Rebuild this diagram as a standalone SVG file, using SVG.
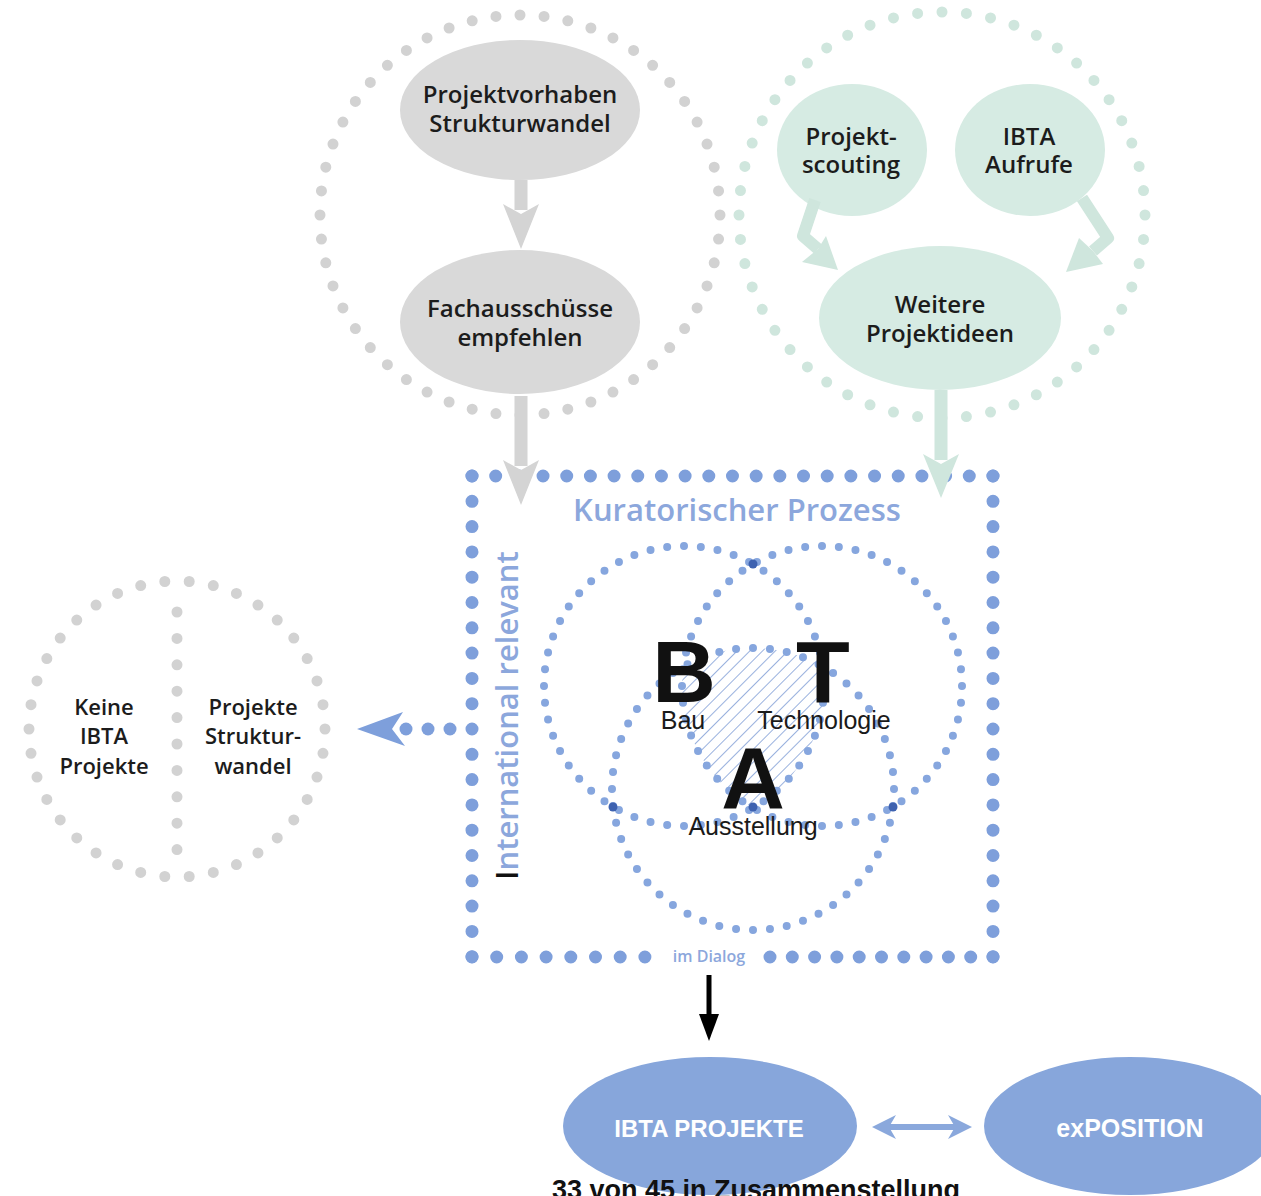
<svg xmlns="http://www.w3.org/2000/svg" width="1261" height="1196" viewBox="0 0 1261 1196">
<defs>
<style>
.lbl{font-family:"Open Sans","Liberation Sans",sans-serif;font-weight:600;fill:#1c1c1c;text-anchor:middle}
.n{font-size:24px}
.gdot{fill:none;stroke:#d2d2d2;stroke-width:11;stroke-linecap:round;stroke-dasharray:0 1}
.tdot{fill:none;stroke:#cfe6dd;stroke-width:11;stroke-linecap:round;stroke-dasharray:0 1}
.bdot{fill:none;stroke:#7e9fdb;stroke-width:13;stroke-linecap:round}
.vdot{fill:none;stroke:#86a6de;stroke-width:8;stroke-linecap:round;stroke-dasharray:0 1}
.gfill{fill:#d9d9d9}
.tfill{fill:#d6ebe3}
.bfill{fill:#87a6db}
.sub{font-family:"Liberation Sans",Arial,sans-serif;font-size:25px;fill:#1a1a1a;text-anchor:middle}
.big{font-family:"Liberation Sans",Arial,sans-serif;font-weight:bold;font-size:88px;fill:#111;text-anchor:middle}
.wl{font-family:"Liberation Sans",Arial,sans-serif;font-weight:bold;fill:#ffffff;text-anchor:middle}
</style>
<pattern id="hatch" width="9" height="9" patternUnits="userSpaceOnUse" patternTransform="rotate(45)">
<line x1="0" y1="0" x2="0" y2="9" stroke="#7f9dd6" stroke-width="1.6"/>
</pattern>
<clipPath id="cB"><circle cx="684" cy="686" r="140"/></clipPath>
<clipPath id="cT"><circle cx="822" cy="686" r="140"/></clipPath>
<clipPath id="cA"><circle cx="753" cy="789" r="141"/></clipPath>
</defs>
<rect width="1261" height="1196" fill="#ffffff"/>

<g id="group-strukturwandel">
<circle class="gdot" cx="520" cy="215" r="200" pathLength="52"/>
</g>
<g id="group-ideen">
<circle class="tdot" cx="942" cy="215" r="203" pathLength="52"/>
</g>

<g id="node-projektvorhaben">
<ellipse class="gfill" cx="520" cy="110" rx="120" ry="70"/>
<text class="lbl n" x="520" y="103">Projektvorhaben</text>
<text class="lbl n" x="520" y="132">Strukturwandel</text>
</g>
<g id="node-fachausschuesse">
<ellipse class="gfill" cx="520" cy="322" rx="120" ry="72"/>
<text class="lbl n" x="520" y="317">Fachausschüsse</text>
<text class="lbl n" x="520" y="346">empfehlen</text>
</g>
<g id="node-projektscouting">
<ellipse class="tfill" cx="852" cy="150" rx="75" ry="66"/>
<text class="lbl n" x="851" y="145">Projekt-</text>
<text class="lbl n" x="851" y="173">scouting</text>
</g>
<g id="node-aufrufe">
<ellipse class="tfill" cx="1030" cy="150" rx="75" ry="66"/>
<text class="lbl n" x="1029" y="145">IBTA</text>
<text class="lbl n" x="1029" y="173">Aufrufe</text>
</g>
<g id="node-weitere">
<ellipse class="tfill" cx="940" cy="318" rx="121" ry="72"/>
<text class="lbl n" x="940" y="313">Weitere</text>
<text class="lbl n" x="940" y="342">Projektideen</text>
</g>

<g id="node-keine-ibta">
<circle class="gdot" cx="177" cy="729" r="148" pathLength="38"/>
<line x1="177" y1="612" x2="177" y2="850" stroke="#d2d2d2" stroke-width="11" stroke-linecap="round" stroke-dasharray="0 26.4"/>
<text class="lbl" style="font-size:22px" x="104" y="715">Keine</text>
<text class="lbl" style="font-size:22px" x="104" y="744">IBTA</text>
<text class="lbl" style="font-size:22px" x="104" y="774">Projekte</text>
<text class="lbl" style="font-size:22px" x="253" y="715">Projekte</text>
<text class="lbl" style="font-size:22px" x="253" y="744">Struktur-</text>
<text class="lbl" style="font-size:22px" x="253" y="774">wandel</text>
</g>

<g id="node-kuratorischer-prozess">
<line class="bdot" x1="472" y1="476" x2="993" y2="476" stroke-dasharray="0 23.68"/>
<line class="bdot" x1="472" y1="476" x2="472" y2="957" stroke-dasharray="0 25.3"/>
<line class="bdot" x1="993" y1="476" x2="993" y2="957" stroke-dasharray="0 25.3"/>
<line class="bdot" x1="472" y1="957" x2="645" y2="957" stroke-dasharray="0 24.7"/>
<line class="bdot" x1="770" y1="957" x2="993" y2="957" stroke-dasharray="0 22.3"/>
<text class="lbl" style="font-size:31px;fill:#8ca7dc" x="737" y="521">Kuratorischer Prozess</text>
<text class="lbl" style="font-size:16px;fill:#8ca7dc" x="709" y="962">im Dialog</text>
<text class="lbl" style="font-size:31px;fill:#8ca7dc;text-anchor:start" transform="translate(518,880) rotate(-90)"><tspan fill="#111">I</tspan>nternational relevant</text>
</g>

<g id="node-venn">
<g clip-path="url(#cB)"><g clip-path="url(#cT)"><rect x="640" y="620" width="220" height="220" fill="url(#hatch)" clip-path="url(#cA)"/></g></g>
<circle class="vdot" cx="684" cy="686" r="140" pathLength="52"/>
<circle class="vdot" cx="822" cy="686" r="140" pathLength="52"/>
<circle class="vdot" cx="753" cy="789" r="141" pathLength="52"/>
<g fill="#3e62b0">
<circle cx="753" cy="564" r="4.5"/>
<circle cx="753" cy="807" r="4.5"/>
<circle cx="613" cy="807" r="4.5"/>
<circle cx="893" cy="807" r="4.5"/>
</g>
<text class="big" x="684" y="702">B</text>
<text class="big" x="823" y="702">T</text>
<text class="big" x="753" y="808">A</text>
<text class="sub" x="683" y="729">Bau</text>
<text class="sub" x="824" y="729">Technologie</text>
<text class="sub" x="753" y="835">Ausstellung</text>
</g>

<g id="node-ibta-projekte">
<ellipse class="bfill" cx="710" cy="1126" rx="147" ry="69"/>
<text class="wl" style="font-size:24px" x="709" y="1137">IBTA PROJEKTE</text>
</g>
<g id="node-exposition">
<ellipse class="bfill" cx="1130" cy="1126" rx="146" ry="69"/>
<text class="wl" style="font-size:25px" x="1130" y="1137">exPOSITION</text>
</g>
<text id="note" x="756" y="1199" font-family="Liberation Sans, Arial, sans-serif" font-weight="bold" font-size="27" fill="#111" text-anchor="middle">33 von 45 in Zusammenstellung</text>

<g id="connectors">
<g fill="#d4d4d4">
<rect x="514.5" y="180" width="13" height="30"/>
<path d="M503,204 L521,214 L539,204 L521,249 Z"/>
<rect x="514.5" y="396" width="13" height="70"/>
<path d="M503,460 L521,470 L539,460 L521,505 Z"/>
</g>
<g fill="#cfe6dd">
<rect x="934.5" y="390" width="13" height="70"/>
<path d="M923,454 L941,464 L959,454 L941,498 Z"/>
</g>
<g fill="none" stroke="#cfe6dd" stroke-width="12" stroke-linejoin="round">
<path d="M815,200 L803,236 L818,249"/>
<path d="M1082,198 L1108,238 L1093,251"/>
</g>
<g fill="#cfe6dd">
<path d="M838,270 L802,262 L818,249 L826,236 Z"/>
<path d="M1066,272 L1079,238 L1093,251 L1103,264 Z"/>
</g>
<g fill="#7e9fdb">
<circle cx="450" cy="729" r="6.5"/>
<circle cx="428" cy="729" r="6.5"/>
<circle cx="406" cy="729" r="6.5"/>
<path d="M357,729 L403,712 L392,729 L405,746 Z"/>
</g>
<g>
<line x1="709" y1="975" x2="709" y2="1020" stroke="#000" stroke-width="5"/>
<path d="M699,1014 L719,1014 L709,1041 Z" fill="#000"/>
</g>
<g fill="#8aa8dc">
<rect x="886" y="1124" width="70" height="6"/>
<path d="M872,1127 L896,1115 L889,1127 L896,1139 Z"/>
<path d="M972,1127 L948,1115 L955,1127 L948,1139 Z"/>
</g>
</g>
</svg>
